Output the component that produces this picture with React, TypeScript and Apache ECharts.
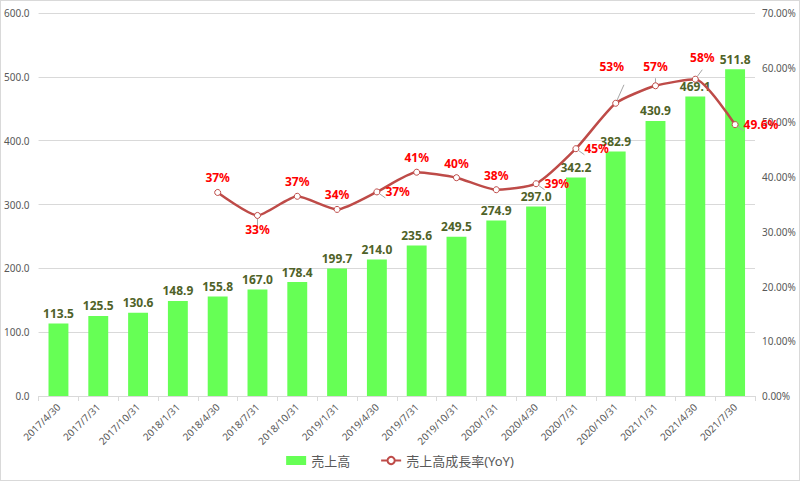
import React, { useEffect, useRef } from "react";
import * as echarts from "echarts";

const categories = [
  "2017/4/30", "2017/7/31", "2017/10/31", "2018/1/31", "2018/4/30", "2018/7/31",
  "2018/10/31", "2019/1/31", "2019/4/30", "2019/7/31", "2019/10/31", "2020/1/31",
  "2020/4/30", "2020/7/31", "2020/10/31", "2021/1/31", "2021/4/30", "2021/7/30",
];
const sales = [113.5, 125.5, 130.6, 148.9, 155.8, 167.0, 178.4, 199.7, 214.0, 235.6, 249.5, 274.9, 297.0, 342.2, 382.9, 430.9, 469.1, 511.8];
const yoy = [null, null, null, null, 37.2, 33.0, 36.5, 34.1, 37.3, 40.9, 39.9, 37.7, 38.8, 45.2, 53.5, 56.7, 57.9, 49.6];
const yoyLabels = ["", "", "", "", "37%", "33%", "37%", "34%", "37%", "41%", "40%", "38%", "39%", "45%", "53%", "57%", "58%", "49.6%"];
const yoyLabelPos = ["", "", "", "", "top", "bottom", "top", "top", "right", "top", "top", "top", "right", "right", "top", "top", "top", "right"];
const yoyLabelOffset: number[][] = [[0,0],[0,0],[0,0],[0,0],[0,0],[0,0],[0,0],[0,0],[0,0],[0,0],[0,0],[0,0],[0,0],[0,0],[-4,-22],[0,-5],[7,-7],[0,0]];

const FONT = "'Noto Sans', 'Noto Sans CJK JP', sans-serif";

export default function App() {
  const ref = useRef<HTMLDivElement>(null);
  useEffect(() => {
    document.body.style.margin = "0";
    const chart = echarts.init(ref.current!, null, { renderer: "svg" });
    const lineData = yoy.map((v, i) =>
      v === null
        ? null
        : {
            value: v,
            label: {
              position: yoyLabelPos[i] as any,
              offset: yoyLabelOffset[i],
              formatter: () => yoyLabels[i],
            },
          }
    );
    chart.setOption({
      animation: false,
      textStyle: { fontFamily: FONT },
      grid: { left: 37, right: 44, top: 12, bottom: 84 },
      legend: {
        bottom: 8,
        left: "center",
        itemGap: 30,
        itemWidth: 20,
        itemHeight: 9,
        textStyle: { fontSize: 13, color: "#595959", fontFamily: FONT },
        data: [
          { name: "売上高", icon: "rect" },
          { name: "売上高成長率(YoY)" },
        ],
      },
      xAxis: {
        type: "category",
        data: categories,
        axisLine: { lineStyle: { color: "#d9d9d9" } },
        axisTick: { show: true, length: 5, lineStyle: { color: "#d9d9d9" } },
        axisLabel: { rotate: 45, fontSize: 10, color: "#595959", margin: 9, interval: 0 },
      },
      yAxis: [
        {
          type: "value",
          min: 0,
          max: 600,
          interval: 100,
          axisLine: { show: false },
          axisTick: { show: false },
          splitLine: { lineStyle: { color: "#d9d9d9" } },
          axisLabel: { fontSize: 10, color: "#595959", margin: 9, formatter: (v: number) => v.toFixed(1) },
        },
        {
          type: "value",
          min: 0,
          max: 70,
          interval: 10,
          axisLine: { show: false },
          axisTick: { show: false },
          splitLine: { show: false },
          axisLabel: { fontSize: 10, color: "#595959", margin: 7, formatter: (v: number) => v.toFixed(2) + "%" },
        },
      ],
      series: [
        {
          name: "売上高",
          type: "bar",
          data: sales,
          barWidth: "50%",
          itemStyle: { color: "#66FF55" },
          label: {
            show: true,
            position: "top",
            distance: 4,
            color: "#4F6228",
            fontWeight: "bold",
            fontSize: 12,
            formatter: (p: any) => Number(p.value).toFixed(1),
          },
        },
        {
          name: "売上高成長率(YoY)",
          type: "line",
          yAxisIndex: 1,
          data: lineData,
          smooth: 0.2,
          symbol: "circle",
          symbolSize: 6,
          lineStyle: { color: "#BE4B48", width: 2.5 },
          itemStyle: { color: "#ffffff", borderColor: "#BE4B48", borderWidth: 1 },
          label: {
            show: true,
            color: "#FF0000",
            fontWeight: "bold",
            fontSize: 12,
            distance: 5,
          },
          labelLine: { show: true, lineStyle: { color: "#a6a6a6", width: 1 } },
          z: 3,
        },
      ],
    });
    return () => chart.dispose();
  }, []);
  return (
    <div
      style={{
        position: "fixed",
        left: 0,
        top: 0,
        width: 800,
        height: 481,
        boxSizing: "border-box",
        border: "1px solid #d9d9d9",
        background: "#fff",
      }}
    >
      <div ref={ref} style={{ width: 798, height: 479 }} />
    </div>
  );
}
